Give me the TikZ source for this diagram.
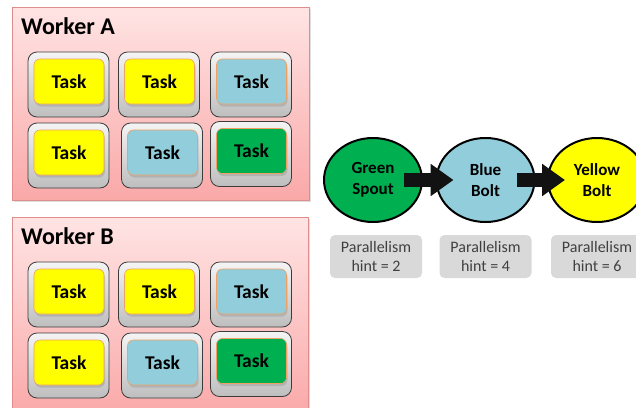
\documentclass[tikz,border=0pt]{standalone}
\usepackage{fontspec}
\setmainfont{Carlito}
\usetikzlibrary{shadows,arrows.meta,calc,shapes.geometric}

\definecolor{pinkTop}{RGB}{255,228,228}
\definecolor{pinkBot}{RGB}{250,168,168}
\definecolor{pinkLine}{RGB}{222,140,140}
\definecolor{frameTop}{RGB}{244,244,244}
\definecolor{frameBot}{RGB}{190,190,190}
\definecolor{frameLine}{RGB}{60,60,60}
\definecolor{cardLine}{RGB}{240,160,100}
\definecolor{tYellow}{RGB}{255,255,0}
\definecolor{tBlue}{RGB}{146,205,220}
\definecolor{tGreen}{RGB}{0,176,80}
\definecolor{hintFill}{RGB}{217,217,217}
\definecolor{hintText}{RGB}{64,64,64}

\tikzset{
  workerbox/.style={draw=pinkLine, line width=0.8pt, top color=pinkTop, bottom color=pinkBot,
    drop shadow={shadow xshift=1.5pt, shadow yshift=-1.5pt, opacity=0.25}},
  workertitle/.style={anchor=base west, inner sep=0pt, font=\fontsize{24}{27}\selectfont\bfseries},
  taskframe/.style={draw=frameLine, line width=0.8pt, rounded corners=9pt,
    top color=frameTop, bottom color=frameBot, minimum width=81pt, minimum height=65pt},
  taskcard/.style={draw=cardLine, line width=0.6pt, rounded corners=6pt,
    minimum width=70pt, minimum height=45pt, inner sep=0pt,
    font=\fontsize{19.5}{22}\selectfont\bfseries,
    drop shadow={shadow xshift=1pt, shadow yshift=-2.5pt, opacity=0.3}},
  comp/.style={ellipse, draw=black, line width=2pt, minimum width=98pt, minimum height=84pt,
    inner sep=0pt, align=center, font=\fontsize{17}{20.5}\selectfont\bfseries},
  hint/.style={fill=hintFill, rounded corners=5pt, minimum width=92pt, minimum height=43pt,
    inner sep=0pt, align=center, text=hintText, font=\fontsize{16}{18.5}\selectfont},
  flow/.style={draw=black!93, line width=14pt,
    -{Triangle[length=23pt, width=31pt]}}
}

% one task slot: name, centre x, centre y, card colour
\newcommand{\taskslot}[4]{%
  \node[taskframe] (#1) at (#2,#3) {};
  \node[taskcard, fill=#4] (#1card) at ($(#1.center)+(0.5,-3)$) {Task};
}

\begin{document}
\begin{tikzpicture}[x=1pt, y=-1pt]
  \useasboundingbox (0,0) rectangle (636,407);
  \clip (0,0) rectangle (636,407);

  % ---- Worker A ----
  \node[workerbox, minimum width=297pt, minimum height=193pt, inner sep=0pt] (workerA) at (160.5,103.5) {};
  \node[workertitle] (titleA) at (21,34) {Worker A};
  \taskslot{a1}{68.5}{84.5}{tYellow}
  \taskslot{a2}{159}{84.5}{tYellow}
  \taskslot{a3}{251}{84.5}{tBlue}
  \taskslot{a4}{68.5}{155.5}{tYellow}
  \taskslot{a5}{162}{155.5}{tBlue}
  \taskslot{a6}{251}{154}{tGreen}

  % ---- Worker B ----
  \node[workerbox, minimum width=296pt, minimum height=200pt, inner sep=0pt] (workerB) at (160,317) {};
  \node[workertitle] (titleB) at (21,244) {Worker B};
  \taskslot{b1}{68.5}{294.5}{tYellow}
  \taskslot{b2}{159}{294.5}{tYellow}
  \taskslot{b3}{251}{294.5}{tBlue}
  \taskslot{b4}{68.5}{365.5}{tYellow}
  \taskslot{b5}{162}{365.5}{tBlue}
  \taskslot{b6}{251}{364}{tGreen}

  % ---- Topology ----
  \node[comp, fill=tGreen] (spout) at (373,180) {Green\\Spout};
  \node[comp, fill=tBlue] (bolt1) at (485.5,180) {Blue\\Bolt};
  \node[comp, fill=tYellow] (bolt2) at (597,180) {Yellow\\Bolt};

  \draw[flow] ($(spout.east)+(-19,0)$) -- ($(bolt1.west)+(18,0)$);
  \draw[flow] ($(bolt1.east)+(-19,0)$) -- ($(bolt2.west)+(18,0)$);

  \node[hint] (hint1) at (376,256.5) {Parallelism\\hint = 2};
  \node[hint] (hint2) at (485.5,256.5) {Parallelism\\hint = 4};
  \node[hint] (hint3) at (597,256.5) {Parallelism\\hint = 6};
\end{tikzpicture}
\end{document}
